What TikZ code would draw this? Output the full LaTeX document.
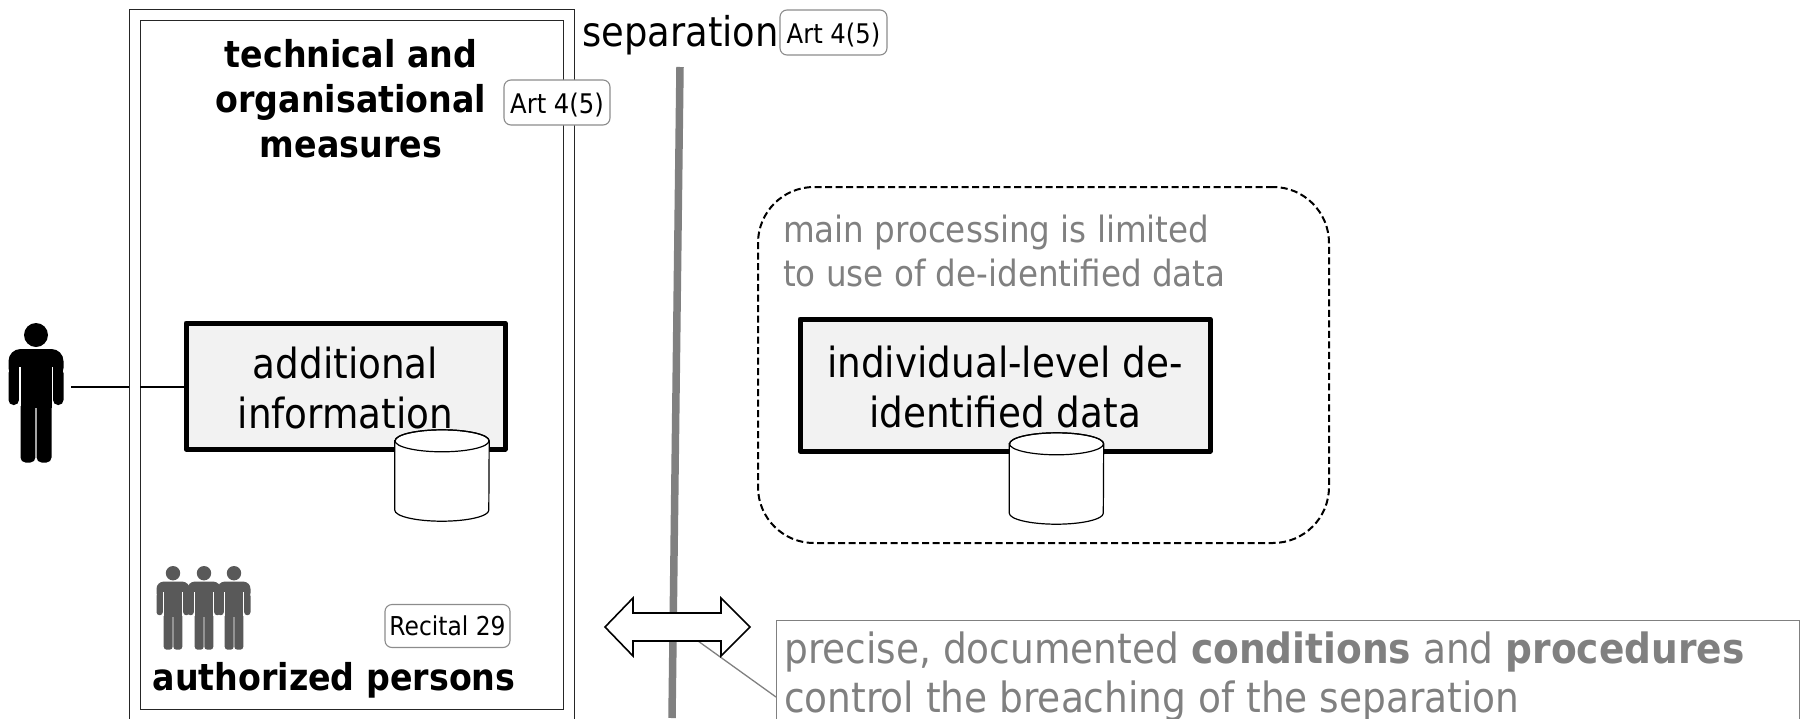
\documentclass[tikz,border=0pt]{standalone}
\usepackage{fontspec}
\setmainfont{DejaVu Sans Condensed}
\definecolor{gtxt}{HTML}{808080}
\definecolor{boxfill}{HTML}{F2F2F2}
\newcommand{\fsz}[2]{\fontsize{#1}{#2}\selectfont}
\def\pr{5}
\newcommand{\dbcyl}[1]{%
  \draw[black,fill=white,line width=1.2pt] ([yshift=-11pt]#1.north west) -- ([yshift=11pt]#1.south west)
    arc[start angle=180,end angle=0,x radius=47,y radius=11] -- ([yshift=-11pt]#1.north east)
    arc[start angle=0,end angle=-180,x radius=47,y radius=11] -- cycle;
  \draw[black,line width=1.2pt] ([yshift=-11pt]#1.north) ellipse[x radius=47,y radius=11];
}
\tikzset{
  x=1pt,y=-1pt,
  frame/.style={draw=black!85,line width=1.3pt,anchor=north west,inner sep=0pt},
  databox/.style={draw=black,line width=5pt,fill=boxfill,align=center,inner sep=0pt,line join=round},
  db/.style={inner sep=0pt,minimum width=94pt,minimum height=91pt},
  tag/.style={draw=black!45,fill=white,rounded corners=7pt,line width=1.1pt,inner sep=0pt,align=center},
  person/.pic={
    \fill[pic actions] (0,-63) circle[radius=12];
    \fill[pic actions,rounded corners=2.4*\pr pt] (-27.5,-49) rectangle (27.5,-18);
    \fill[pic actions,rounded corners=\pr pt] (-27.5,-30) rectangle (-17,7);
    \fill[pic actions,rounded corners=\pr pt] (27.5,-30) rectangle (17,7);
    \fill[pic actions] (-15.5,-49) rectangle (15.5,10);
    \fill[pic actions,rounded corners=\pr pt] (-15.5,0) rectangle (-0.6,64.5);
    \fill[pic actions,rounded corners=\pr pt] (15.5,0) rectangle (0.6,64.5);
    \fill[white] (-17,-31) rectangle (-15.5,8);
    \fill[white] (17,-31) rectangle (15.5,8);
  }
}
\begin{document}
\begin{tikzpicture}
\useasboundingbox (0,0) rectangle (1800,718);
\clip (0,0) rectangle (1800,718);
% separation line
\coordinate (septop) at (680,67);
\coordinate (sepbot) at (672,718);
\draw[gtxt,line width=7.5pt] (septop) -- (sepbot);
% outer and inner frames
\node[frame,minimum width=445pt,minimum height=760pt] (outer) at (129,9) {};
\node[frame,minimum width=423pt,minimum height=689pt] (inner) at (140,20) {};
% person
\pic[fill=black] at (36,398) {person};
\coordinate (pport) at (71,387);
% additional info
\node[databox,minimum width=319pt,minimum height=126pt,font=\fsz{41.5}{50.5}] (info) at (345.5,386) {\rule{0pt}{36pt}additional\\information};
\draw[black,line width=1.4pt] (pport) -- (outer.west |- pport);
\draw[black,line width=1.4pt] (inner.west |- pport) -- (info.west |- pport);
\node[db] (cyl1) at (442,475.5) {};
\dbcyl{cyl1}
% group
\def\pr{3}
\pic[fill=black!65,scale=.6] at (173,611) {person};
\pic[fill=black!65,scale=.6] at (204,611) {person};
\pic[fill=black!65,scale=.6] at (234,611) {person};
\def\pr{5}
\node[tag,minimum width=125pt,minimum height=43pt,font=\fsz{26}{32}] (rec) at (447.5,626) {Recital 29};
\node[inner sep=0pt,font=\fsz{37}{44}\bfseries] (auth) at (334,680) {authorized persons};
% title
\node[align=center,inner sep=0pt,font=\fsz{37}{45}\bfseries] (title) at (351,99) {technical and\\organisational\\measures};
\node[tag,minimum width=106pt,minimum height=45pt,font=\fsz{27}{32},text height=23pt,text depth=2pt] (art1) at (557,102.5) {Art 4(5)};
% separation label
\node[inner sep=0pt,font=\fsz{41}{50}] (seplab) at (680.5,35) {separation};
\node[tag,minimum width=107pt,minimum height=45pt,font=\fsz{27}{32},text height=23pt,text depth=2pt] (art2) at (833.5,32.5) {Art 4(5)};
% dashed group
\node[draw=black,line width=2pt,dash pattern=on 7pt off 3.5pt,rounded corners=56pt,minimum width=571pt,minimum height=356pt,inner sep=0pt] (main) at (1043.5,365) {};
\node[anchor=west,align=left,inner sep=0pt,text=gtxt,font=\fsz{36.2}{44}] (maintxt) at (783,250.5) {main processing is limited\\to use of de-identified data};
\node[databox,minimum width=410pt,minimum height=132pt,font=\fsz{41.5}{50.5}] (ind) at (1005,385) {\rule{0pt}{36pt}individual-level de-\\identified data};
\node[db] (cyl2) at (1056.5,478.5) {};
\dbcyl{cyl2}
% callout
\node[draw=gtxt,line width=1.3pt,anchor=north west,minimum width=1023pt,minimum height=140pt,inner sep=0pt] (call) at (776,620) {};
\node[anchor=north west,align=left,inner sep=0pt,text=gtxt,font=\fsz{41.7}{49}] (calltxt) at (784,632) {precise, documented \textbf{conditions} and \textbf{procedures}\\control the breaching of the separation};
\coordinate (cfrom) at (698,641);
\coordinate (cto) at (776,697);
\draw[gtxt,line width=1.3pt] (cfrom) -- (cto);
% double arrow
\draw[black,fill=white,line width=1.6pt,line join=miter] (605,627) -- (633,598) -- (633,613) -- (721,613) -- (721,598) -- (750,627) -- (721,656) -- (721,641) -- (633,641) -- (633,656) -- cycle;
\end{tikzpicture}
\end{document}
